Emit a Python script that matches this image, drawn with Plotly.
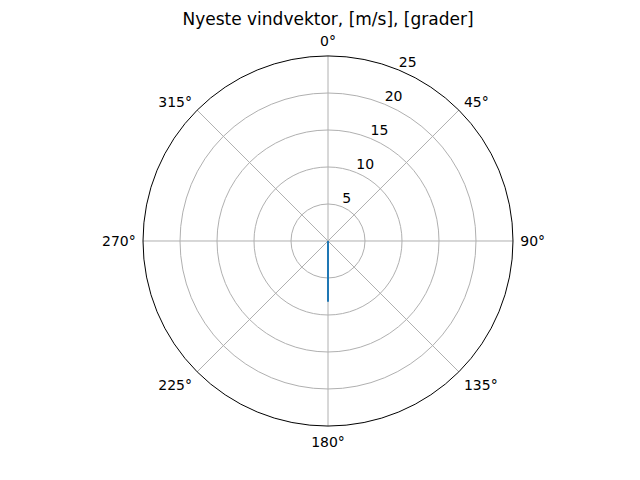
import plotly.graph_objects as go

# newest wind vector
wind_speed = [0, 8.2]
wind_dir = [180, 180]

angle_ticks = [0, 45, 90, 135, 180, 225, 270, 315]
angle_labels = ["0°", "45°", "90°", "135°", "180°", "225°", "270°", "315°"]
radial_ticks = [5, 10, 15, 20, 25]
radial_label_angle = 22.5

fig = go.Figure()

fig.add_trace(go.Scatterpolar(
    r=wind_speed,
    theta=wind_dir,
    mode="lines",
    line=dict(color="#1f77b4", width=2),
    showlegend=False
))

# radial tick labels, matplotlib style (bottom-left anchored at 22.5 deg)
fig.add_trace(go.Scatterpolar(
    r=radial_ticks,
    theta=[radial_label_angle] * len(radial_ticks),
    mode="text",
    text=[str(v) for v in radial_ticks],
    textposition="top right",
    textfont=dict(family="DejaVu Sans", size=14, color="black"),
    hoverinfo="skip",
    showlegend=False,
    cliponaxis=False
))

fig.update_layout(
    width=640,
    height=480,
    margin=dict(l=0, r=0, t=0, b=0),
    paper_bgcolor="white",
    font=dict(family="DejaVu Sans", size=14, color="black"),
    title=dict(
        text="Nyeste vindvektor, [m/s], [grader]",
        x=0.5, xanchor="center",
        y=0.977, yanchor="middle",
        font=dict(size=17)
    ),
    polar=dict(
        domain=dict(x=[0.2109, 0.7891], y=[0.1292, 0.9]),
        bgcolor="white",
        angularaxis=dict(
            rotation=90,
            direction="clockwise",
            tickmode="array",
            tickvals=angle_ticks,
            ticktext=angle_labels,
            showline=True,
            linecolor="black",
            linewidth=1,
            gridcolor="#b0b0b0",
            gridwidth=1,
            ticks="outside",
            ticklen=4,
            tickcolor="rgba(0,0,0,0)"
        ),
        radialaxis=dict(
            range=[0, 25],
            tickmode="array",
            tickvals=radial_ticks,
            showticklabels=False,
            showline=False,
            ticks="",
            gridcolor="#b0b0b0",
            gridwidth=1
        )
    )
)

fig.write_html("out.html")
